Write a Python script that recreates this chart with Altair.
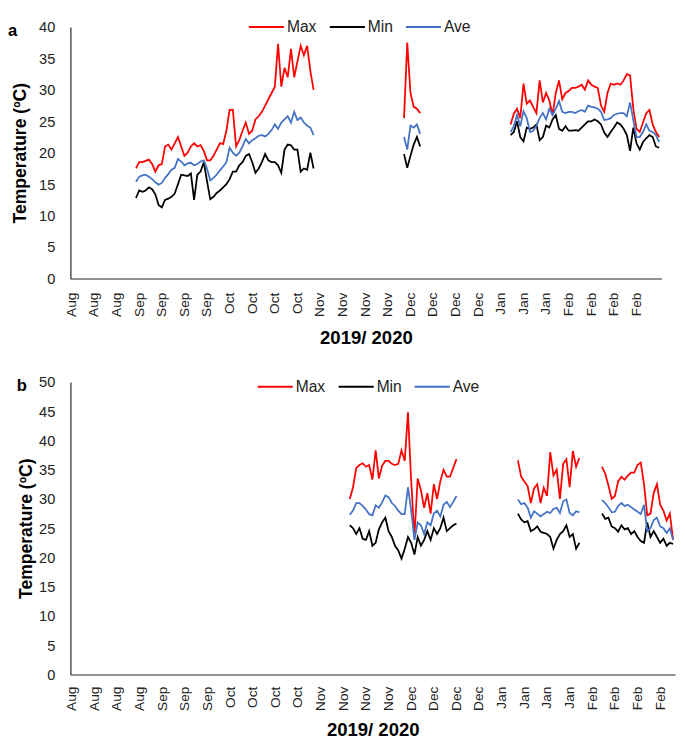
import altair as alt
import pandas as pd

FONT = "Liberation Sans"
SERIES = ["Max", "Min", "Ave"]
COLORS = ["#FF0000", "#000000", "#4472C4"]

# ---- x tick labels (one label every 7 days) ----
A_LABELS = ["Aug", "Aug", "Aug", "Sep", "Sep", "Sep", "Sep", "Oct", "Oct", "Oct", "Oct",
            "Nov", "Nov", "Nov", "Nov", "Dec", "Dec", "Dec", "Dec", "Jan", "Jan", "Jan",
            "Feb", "Feb", "Feb", "Feb"]
B_LABELS = ["Aug", "Aug", "Aug", "Aug", "Sep", "Sep", "Sep", "Oct", "Oct", "Oct", "Oct",
            "Nov", "Nov", "Nov", "Nov", "Dec", "Dec", "Dec", "Dec", "Jan", "Jan", "Jan", "Jan",
            "Feb", "Feb", "Feb", "Feb"]

# ---- panel a: first day (index) of each recorded segment and daily temperatures ----
A_STARTS = [20, 103, 136]
A_MAX_1 = [17.5, 18.5, 18.5, 18.7, 18.9, 18.2, 17.0, 18.0, 18.2, 21.0, 21.3, 20.5, 21.5, 22.5,
           21.0, 19.5, 20.0, 21.0, 21.5, 21.0, 21.2, 20.3, 18.8, 18.8, 19.5, 20.5, 21.5, 21.4,
           23.5, 26.8, 26.8, 21.0, 22.0, 23.5, 24.8, 23.0, 23.5, 25.3, 25.8, 26.5, 27.5, 28.5,
           29.5, 30.5, 37.3, 30.5, 33.5, 32.0, 36.5, 32.0, 34.5, 37.0, 35.5, 37.0, 33.0, 30.0]
A_AVE_1 = [15.4, 16.2, 16.4, 16.5, 16.2, 15.8, 15.3, 14.9, 15.2, 16.0, 16.6, 17.3, 17.6, 19.0,
           18.6, 18.0, 18.3, 18.4, 18.0, 18.2, 18.6, 18.8, 17.5, 15.6, 16.0, 16.5, 17.2, 17.8,
           18.5, 20.8, 20.0, 19.5, 20.0, 21.0, 22.2, 21.5, 22.0, 22.3, 22.7, 22.8, 22.6, 23.0,
           23.6, 24.5, 23.8, 24.8, 25.3, 25.8, 24.8, 26.5, 25.2, 25.6, 24.8, 24.3, 24.0, 22.8]
A_MIN_1 = [12.8, 14.0, 13.8, 14.0, 14.5, 14.2, 13.4, 11.7, 11.3, 12.5, 12.7, 13.0, 13.5, 15.0,
           16.5, 16.4, 16.3, 16.7, 12.5, 16.5, 17.0, 18.5, 15.5, 12.6, 13.0, 13.6, 14.0, 14.5,
           15.0, 15.8, 17.0, 17.0, 18.0, 18.5, 19.5, 19.8, 18.5, 16.8, 17.5, 18.5, 19.8, 18.8,
           18.5, 18.5, 18.0, 16.8, 20.5, 21.3, 21.2, 20.5, 20.5, 17.0, 17.5, 17.3, 20.0, 17.5]
A_MAX_2 = [25.5, 37.5, 29.5, 27.3, 27.0, 26.3]
A_AVE_2 = [22.5, 20.5, 24.3, 24.0, 24.5, 23.0]
A_MIN_2 = [19.8, 17.6, 19.5, 21.3, 22.5, 21.0]
A_MAX_3 = [24.5, 26.2, 27.0, 25.5, 31.0, 27.8, 28.3, 27.3, 26.3, 31.5, 28.0, 29.5, 28.3, 26.0,
           29.5, 31.5, 28.5, 29.5, 29.8, 30.3, 30.3, 30.5, 30.8, 30.0, 31.5, 30.8, 30.5, 30.3,
           27.5, 26.5, 29.5, 31.0, 30.8, 31.0, 30.8, 31.5, 32.5, 32.3, 27.0, 23.8, 23.3, 24.8,
           26.3, 26.8, 24.5, 23.3, 22.5]
A_AVE_3 = [23.3, 24.2, 26.0, 24.2, 26.6, 25.5, 23.3, 23.5, 24.3, 25.5, 26.3, 25.3, 27.0, 26.0,
           27.0, 28.2, 26.5, 26.3, 26.5, 26.5, 26.3, 26.6, 26.8, 26.5, 27.5, 27.3, 27.2, 27.0,
           26.5, 25.2, 25.3, 25.5, 26.0, 26.2, 26.3, 26.3, 25.8, 28.0, 25.2, 22.5, 22.5, 23.3,
           24.5, 23.5, 23.3, 22.8, 21.7]
A_MIN_3 = [22.8, 23.3, 25.0, 22.5, 21.8, 24.0, 23.8, 24.0, 24.5, 22.0, 22.5, 24.3, 24.0, 25.3,
           26.0, 23.8, 23.5, 24.2, 23.5, 23.5, 23.6, 23.5, 24.0, 24.5, 25.0, 25.0, 25.3, 25.0,
           24.5, 23.2, 22.5, 23.3, 24.0, 24.8, 24.5, 23.8, 22.8, 20.3, 24.0, 21.5, 20.5, 21.7,
           22.3, 22.8, 22.5, 21.0, 20.8]

# ---- panel b ----
B_STARTS = [86, 138, 164]
B_MAX_1 = [30.0, 32.0, 35.3, 35.8, 36.1, 35.5, 35.8, 33.3, 38.3, 33.5, 35.7, 36.5, 36.5, 36.0,
           35.8, 36.0, 38.3, 36.5, 44.8, 33.0, 23.5, 33.5, 31.5, 28.5, 31.0, 27.5, 32.5, 30.0,
           33.0, 35.0, 33.8, 33.8, 35.3, 36.8]
B_AVE_1 = [27.3, 28.0, 29.3, 29.3, 28.8, 28.2, 27.4, 27.2, 28.9, 28.5, 29.4, 30.6, 30.3, 29.3,
           28.8, 28.0, 27.4, 27.4, 32.0, 28.0, 23.0, 26.0, 25.5, 24.0, 26.0, 25.5, 27.5, 28.0,
           27.0, 29.0, 29.5, 28.6, 29.5, 30.5]
B_MIN_1 = [25.5, 25.0, 24.0, 25.0, 23.2, 23.0, 24.5, 22.0, 22.5, 24.8, 26.0, 26.8, 24.5, 23.5,
           22.0, 21.2, 19.8, 21.5, 23.5, 22.5, 20.5, 23.5, 22.0, 23.0, 24.5, 23.0, 25.0, 24.0,
           25.0, 26.8, 24.5, 25.0, 25.5, 25.8]
B_MAX_2 = [36.6, 33.8, 33.0, 32.2, 29.3, 31.8, 32.5, 29.3, 31.9, 30.5, 38.0, 34.0, 35.0, 30.0,
           36.0, 36.8, 32.0, 38.2, 35.5, 37.0]
B_AVE_2 = [29.9, 29.1, 29.3, 28.5, 26.8, 27.9, 27.5, 27.0, 27.4, 27.8, 27.6, 28.3, 28.5, 27.6,
           29.6, 29.9, 27.6, 27.2, 27.9, 27.7]
B_MIN_2 = [27.5, 26.5, 26.0, 26.2, 24.5, 24.8, 25.3, 24.4, 24.2, 24.0, 23.5, 21.5, 23.0, 24.0,
           24.5, 25.5, 23.5, 24.0, 21.5, 22.5]
B_MAX_3 = [35.5, 34.3, 32.3, 30.0, 30.5, 33.0, 33.8, 33.3, 34.0, 34.5, 34.5, 35.8, 36.2, 32.5,
           27.2, 27.5, 31.0, 32.5, 29.0, 28.0, 26.3, 27.5, 23.0]
B_AVE_3 = [29.8, 29.3, 28.6, 27.7, 27.8, 28.8, 29.3, 28.8, 29.0, 28.6, 28.2, 27.8, 27.4, 29.0,
           24.5, 25.0, 26.4, 26.8, 25.3, 25.0, 24.2, 25.0, 23.0]
B_MIN_3 = [27.5, 26.6, 26.8, 25.3, 25.0, 24.4, 25.5, 24.8, 25.0, 24.0, 24.5, 23.5, 22.8, 22.5,
           26.0, 23.5, 24.5, 23.5, 22.5, 23.2, 22.0, 22.5, 22.3]


def build(starts, maxs, mins, aves):
    rows = []
    for k, s in enumerate(starts):
        for name, vals in (("Max", maxs[k]), ("Min", mins[k]), ("Ave", aves[k])):
            for i, v in enumerate(vals):
                rows.append({"day": s + i, "temp": v, "series": name, "seg": k})
    return pd.DataFrame(rows)


df_a = build(A_STARTS, [A_MAX_1, A_MAX_2, A_MAX_3], [A_MIN_1, A_MIN_2, A_MIN_3],
             [A_AVE_1, A_AVE_2, A_AVE_3])
df_b = build(B_STARTS, [B_MAX_1, B_MAX_2, B_MAX_3], [B_MIN_1, B_MIN_2, B_MIN_3],
             [B_AVE_1, B_AVE_2, B_AVE_3])


def panel(df, labels, xdomain, ymax, width, height, letter, letter_x, lx, ly,
          ytitle_pad, xlab_pad, xtitle_pad):
    expr = "[" + ",".join("'%s'" % l for l in labels) + "][round(datum.value/7)]"
    lines = alt.Chart(df).mark_line(strokeWidth=1.8).encode(
        x=alt.X("day:Q",
                scale=alt.Scale(domain=xdomain, nice=False, zero=False),
                axis=alt.Axis(values=[7 * i for i in range(len(labels))], labelExpr=expr,
                              labelAngle=-90, labelFontSize=14, labelPadding=xlab_pad,
                              ticks=False, tickSize=0, grid=False, domainColor="#222222",
                              domainWidth=1.2, labelColor="#222222",
                              title="2019/ 2020", titleFontSize=19, titleFontWeight="bold",
                              titlePadding=xtitle_pad, titleColor="#000000",
                              labelFont=FONT, titleFont=FONT)),
        y=alt.Y("temp:Q",
                scale=alt.Scale(domain=[0, ymax], nice=False),
                axis=alt.Axis(values=list(range(0, ymax + 1, 5)), labelFontSize=15,
                              labelPadding=16, ticks=False, tickSize=0, grid=False,
                              domainColor="#222222", domainWidth=1.2, labelColor="#222222",
                              title="Temperature (ºC)", titleFontSize=18,
                              titleFontWeight="bold", titlePadding=ytitle_pad,
                              titleColor="#000000", labelFont=FONT, titleFont=FONT)),
        color=alt.Color("series:N",
                        scale=alt.Scale(domain=SERIES, range=COLORS),
                        legend=alt.Legend(orient="none", legendX=lx, legendY=ly,
                                          direction="horizontal", title=None,
                                          symbolType="M-2,0H2", symbolSize=324,
                                          symbolStrokeWidth=2, labelFontSize=16,
                                          labelFont=FONT, labelColor="#222222",
                                          columnPadding=9, labelOffset=11)),
        detail="seg:N",
    )
    tag = alt.Chart(pd.DataFrame({"t": [letter]})).mark_text(
        fontWeight="bold", fontSize=17, font=FONT, align="left", baseline="middle",
        color="#000000"
    ).encode(text="t:N", x=alt.value(letter_x), y=alt.value(4))
    return alt.layer(lines, tag).properties(width=width, height=height)


pa = panel(df_a, A_LABELS, [-0.3, 182.7], 40, 606, 258, "a", -64, 191, -10, 9, 14, 13)
pb = panel(df_b, B_LABELS, [-0.4, 186.6], 50, 620, 300, "b", -55, 200, -5, 3, 12, 11)

chart = alt.concat(pa, pb, columns=1, spacing=28).properties(
    align="none", padding=0
).resolve_scale(color="independent").resolve_legend(color="independent").configure_view(
    stroke=None
)

chart.save("out.html", embed_options={"renderer": "svg", "actions": False})
